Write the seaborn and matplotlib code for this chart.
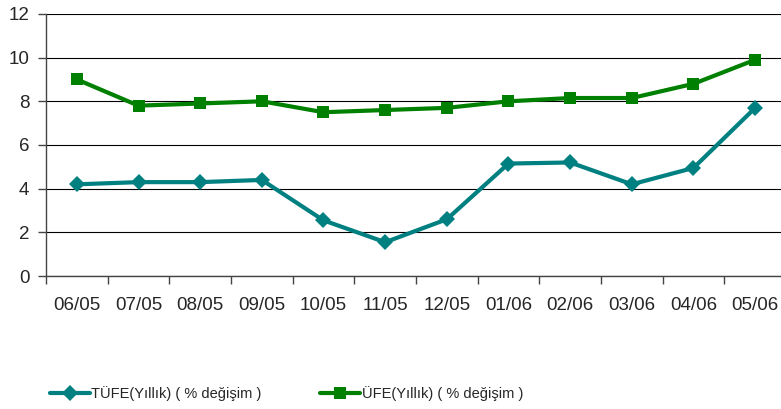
import numpy as np
import pandas as pd
import matplotlib
matplotlib.use("Agg")
import matplotlib.pyplot as plt
import seaborn as sns

# data
months = ["06/05", "07/05", "08/05", "09/05", "10/05", "11/05",
          "12/05", "01/06", "02/06", "03/06", "04/06", "05/06"]
tufe = [4.2, 4.3, 4.3, 4.4, 2.55, 1.55, 2.6, 5.15, 5.2, 4.2, 4.95, 7.7]
ufe = [9.0, 7.8, 7.9, 8.0, 7.5, 7.6, 7.7, 8.0, 8.15, 8.15, 8.8, 9.9]

tufe_label = "TÜFE(Yıllık) ( % değişim )"
ufe_label = "ÜFE(Yıllık) ( % değişim )"

df = pd.DataFrame({"pos": np.arange(len(months)), "month": months,
                   "tufe": tufe, "ufe": ufe})

sns.set_style("white")
plt.rcParams["font.family"] = ["Liberation Sans", "DejaVu Sans"]

fig = plt.figure(figsize=(7.81, 4.09), dpi=100)
ax = fig.add_axes([0.0589, 0.325, 0.9475, 0.641])

sns.lineplot(data=df, x="pos", y="tufe", ax=ax, color="#008080", lw=3,
             marker="D", markersize=8, markeredgewidth=0, label=tufe_label)
sns.lineplot(data=df, x="pos", y="ufe", ax=ax, color="#008000", lw=3,
             marker="s", markersize=9, markeredgewidth=0, label=ufe_label)

ax.set_xlim(-0.5, len(months) - 0.5)
ax.set_ylim(0, 12)
ax.set_yticks(range(0, 13, 2))
ax.yaxis.grid(True, color="black", lw=0.8)
ax.set_xticks(df["pos"])
ax.set_xticklabels(months)
ax.set_xticks(np.arange(-0.5, len(months)), minor=True)
ax.tick_params(axis="x", which="major", length=0, pad=15, labelsize=13.5)
ax.tick_params(axis="x", which="minor", length=6, width=1, color="#444444",
               direction="out", bottom=True)
ax.tick_params(axis="y", length=6, width=1, color="#444444", direction="out",
               left=True, labelsize=13.5, pad=6)
ax.set_xlabel("")
ax.set_ylabel("")

for s in ["top", "right"]:
    ax.spines[s].set_visible(False)
for s in ["left", "bottom"]:
    ax.spines[s].set_color("#444444")
    ax.spines[s].set_linewidth(1)

handles, labels = ax.get_legend_handles_labels()
ax.legend_.remove()
fig.legend(handles, labels, loc="center left", bbox_to_anchor=(0.047, 0.038),
           ncol=2, frameon=False, handlelength=2.75, handletextpad=0.1,
           columnspacing=4.0, fontsize=10.5)

fig.savefig("out.png", dpi=100)
